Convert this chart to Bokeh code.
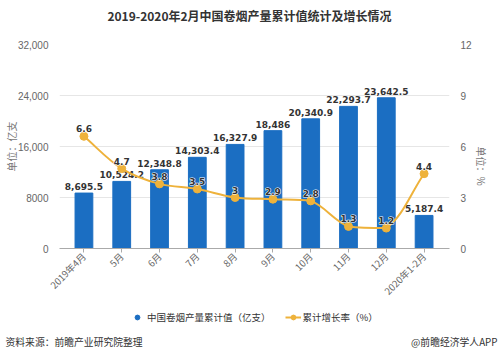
import math
import numpy as np
from bokeh.plotting import figure
from bokeh.layouts import column
from bokeh.models import Range1d, LinearAxis, Label, FixedTicker, Legend, LegendItem
from bokeh.core.properties import value
from bokeh.embed import file_html
from bokeh.resources import INLINE

# ---------------- data ----------------
categories = ["2019年4月", "5月", "6月", "7月", "8月", "9月", "10月", "11月", "12月", "2020年1-2月"]
output = [8695.5, 10524.2, 12348.8, 14303.4, 16327.9, 18486.0, 20340.9, 22293.7, 23642.5, 5187.4]
growth = [6.6, 4.7, 3.8, 3.5, 3.0, 2.9, 2.8, 1.3, 1.2, 4.4]
left_ticks = [0, 8000, 16000, 24000, 32000]
left_tick_labels = ["0", "8000", "16,000", "24,000", "32,000"]
right_ticks = [0, 3, 6, 9, 12]
right_tick_labels = ["0", "3", "6", "9", "12"]

title_text = "2019-2020年2月中国卷烟产量累计值统计及增长情况"
bar_name = "中国卷烟产量累计值（亿支）"
line_name = "累计增长率（%）"
left_title = "单位：亿支"
right_title = "单位：%"
source_text = "资料来源：前瞻产业研究院整理"
credit_text = "@前瞻经济学人APP"

BLUE = "#1b6ec2"
GOLD = "#eeb23b"
CJK = "Noto Sans CJK SC"


def fmt(v):
    s = f"{v:,.1f}"
    return s[:-2] if s.endswith(".0") else s


xs = list(range(len(categories)))
bar_labels = [fmt(v) for v in output]
line_labels = [fmt(v) for v in growth]

# ---------------- geometry ----------------
W = 499
TOP_H, MAIN_H, FOOT_H = 30, 277, 50
FL, FR, FT, FB = 59, 458, 44, 248
STEP = 38.67
X0 = -(84 - FL) / STEP
X1 = 9 + (FR - 432) / STEP
Y1 = 32000
R1 = 12


def no_align(f):
    try:
        f.frame_align = False
    except Exception:
        pass


def bare(h):
    f = figure(width=W, height=h, x_range=Range1d(0, W), y_range=Range1d(0, h),
               output_backend="svg", toolbar_location=None,
               x_axis_type=None, y_axis_type=None,
               min_border_left=0, min_border_right=0, min_border_top=0, min_border_bottom=0)
    f.outline_line_color = None
    f.xgrid.visible = False
    f.ygrid.visible = False
    no_align(f)
    return f


# ---------------- title ----------------
top = bare(TOP_H)
top.add_layout(Label(x=249, y=TOP_H - 15, text=title_text, text_align="center",
                     text_baseline="middle", text_font=CJK, text_font_style="bold",
                     text_font_size="12px", text_color="#333333"))

# ---------------- main chart ----------------
p = figure(width=W, height=MAIN_H,
           x_range=Range1d(X0, X1), y_range=Range1d(0, Y1),
           output_backend="svg", toolbar_location=None,
           min_border_left=FL, min_border_right=W - FR,
           min_border_top=FT - TOP_H, min_border_bottom=TOP_H + MAIN_H - FB)
no_align(p)
p.outline_line_color = None
p.xgrid.visible = False
p.ygrid.grid_line_color = "#e6e6e6"
p.ygrid.ticker = FixedTicker(ticks=left_ticks)

ya = p.yaxis[0]
ya.ticker = FixedTicker(ticks=left_ticks)
ya.major_label_overrides = dict(zip(left_ticks, left_tick_labels))
ya.axis_line_color = None
ya.major_tick_line_color = None
ya.minor_tick_line_color = None
ya.major_label_text_color = "#666666"
ya.major_label_text_font = "Liberation Sans"
ya.major_label_text_font_size = "10px"
ya.major_label_standoff = 5
ya.axis_label = left_title
ya.axis_label_standoff = -4
ya.axis_label_text_font = CJK
ya.axis_label_text_font_style = "normal"
ya.axis_label_text_font_size = "10px"
ya.axis_label_text_color = "#777777"

p.extra_y_ranges = {"pct": Range1d(0, R1)}
ra = LinearAxis(y_range_name="pct", ticker=FixedTicker(ticks=right_ticks),
                major_label_overrides=dict(zip(right_ticks, right_tick_labels)))
ra.axis_line_color = None
ra.major_tick_line_color = None
ra.minor_tick_line_color = None
ra.major_label_text_color = "#666666"
ra.major_label_text_font = "Liberation Sans"
ra.major_label_text_font_size = "10px"
ra.major_label_standoff = 5
ra.axis_label = right_title
ra.axis_label_standoff = 7
ra.axis_label_text_font = CJK
ra.axis_label_text_font_style = "normal"
ra.axis_label_text_font_size = "10px"
ra.axis_label_text_color = "#777777"
try:
    ra.axis_label_orientation = -math.pi / 2
except Exception:
    pass
p.add_layout(ra, "right")

xa = p.xaxis[0]
xa.ticker = FixedTicker(ticks=xs)
xa.major_label_overrides = dict(zip(xs, categories))
xa.major_label_orientation = math.pi / 4
xa.axis_line_color = "#aaaaaa"
xa.major_tick_line_color = "#aaaaaa"
xa.major_tick_in = 0
xa.major_tick_out = 4
xa.minor_tick_line_color = None
xa.major_label_text_color = "#666666"
xa.major_label_text_font = CJK
xa.major_label_text_font_size = "9.5px"
xa.major_label_standoff = 2

# bars
p.vbar(x=xs, top=output, width=0.47, color=BLUE)
p.text(x=xs, y=output, text=bar_labels, text_align="center", text_baseline="bottom",
       y_offset=-3, text_font=value("DejaVu Sans"), text_font_style="bold",
       text_font_size="9px", text_color="#333333")

# smooth line (bezier segments through the data points)
sx = (FR - FL) / (X1 - X0)
sy = (FB - FT) / R1
px = np.array(xs, dtype=float) * sx
py = np.array(growth) * sy
n = len(px)
cp_out, cp_in = [], []
k = 0.35
for i in range(n):
    pr = max(i - 1, 0)
    nx = min(i + 1, n - 1)
    vx, vy = (px[nx] - px[pr]) * k, (py[nx] - py[pr]) * k
    d0 = math.hypot(px[i] - px[pr], py[i] - py[pr])
    d1 = math.hypot(px[nx] - px[i], py[nx] - py[i])
    s = (d0 + d1) or 1
    cp_in.append((px[i] - vx * d0 / s, py[i] - vy * d0 / s))
    cp_out.append((px[i] + vx * d1 / s, py[i] + vy * d1 / s))
x0s, y0s, x1s, y1s, cx0s, cy0s, cx1s, cy1s = [], [], [], [], [], [], [], []
for i in range(n - 1):
    lo, hi = min(py[i], py[i + 1]), max(py[i], py[i + 1])
    x0s.append(xs[i]); y0s.append(growth[i])
    x1s.append(xs[i + 1]); y1s.append(growth[i + 1])
    cx0s.append(cp_out[i][0] / sx); cy0s.append(min(max(cp_out[i][1], lo), hi) / sy)
    cx1s.append(cp_in[i + 1][0] / sx); cy1s.append(min(max(cp_in[i + 1][1], lo), hi) / sy)
p.bezier(x0=x0s, y0=y0s, x1=x1s, y1=y1s, cx0=cx0s, cy0=cy0s, cx1=cx1s, cy1=cy1s,
         line_color=GOLD, line_width=2, y_range_name="pct")
p.scatter(x=xs, y=growth, size=8, fill_color=GOLD, line_color=GOLD, y_range_name="pct")
# halo then text
p.text(x=xs, y=growth, text=line_labels, text_align="center", text_baseline="bottom",
       y_offset=-4, text_font=value("DejaVu Sans"), text_font_style="bold",
       text_font_size="9px", text_color="white", text_outline_color="white",
       y_range_name="pct")
p.text(x=xs, y=growth, text=line_labels, text_align="center", text_baseline="bottom",
       y_offset=-4, text_font=value("DejaVu Sans"), text_font_style="bold",
       text_font_size="9px", text_color="#333333", y_range_name="pct")

# ---------------- footer: legend + source ----------------
foot = bare(FOOT_H)
off = [-1000]
leg_bar = foot.scatter(x=off, y=off, size=10, fill_color=BLUE, line_color=BLUE)
leg_line = foot.line(x=off * 2, y=off * 2, line_color=GOLD, line_width=2)
leg_dot = foot.scatter(x=off, y=off, size=6, fill_color=GOLD, line_color=GOLD)
legend = Legend(items=[LegendItem(label=bar_name, renderers=[leg_bar]),
                       LegendItem(label=line_name, renderers=[leg_line, leg_dot])],
                orientation="horizontal", location=(129, FOOT_H - 17),
                border_line_color=None, background_fill_alpha=0,
                label_text_font=CJK, label_text_font_size="9.5px",
                label_text_color="#333333", glyph_width=16, glyph_height=12,
                label_standoff=2, spacing=14, padding=0, margin=0)
foot.add_layout(legend, "center")
foot.add_layout(Label(x=5, y=FOOT_H - 34, text=source_text, text_align="left",
                      text_baseline="middle", text_font=CJK,
                      text_font_size="9.8px", text_color="#333333"))
foot.add_layout(Label(x=497, y=FOOT_H - 34, text=credit_text, text_align="right",
                      text_baseline="middle", text_font=CJK,
                      text_font_size="9.8px", text_color="#333333"))

layout = column(top, p, foot, spacing=0)
open("out.html", "w").write(file_html(layout, INLINE))
